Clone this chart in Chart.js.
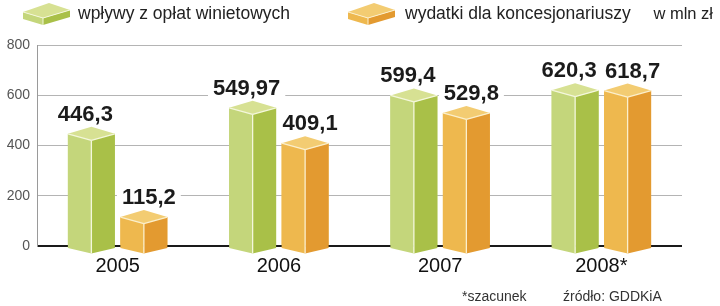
<!DOCTYPE html>
<html>
<head>
<meta charset="utf-8">
<script src="https://cdn.jsdelivr.net/npm/chart.js@4.4.1/dist/chart.umd.min.js"></script>
<style>
  html, body { margin: 0; padding: 0; background: #fff; }
  #wrap { position: relative; width: 720px; height: 306px; overflow: hidden; }
  #c { position: absolute; left: 0; top: 0; }
  .t { position: absolute; font-family: "Liberation Sans", Arial, sans-serif; color: #222; white-space: nowrap; }
  .leg { font-size: 17.5px; top: 3px; line-height: 20px; }
  .foot { font-size: 14px; top: 287px; line-height: 18px; color: #333; }
</style>
</head>
<body>
<div id="wrap">
  <canvas id="c" width="720" height="306"></canvas>
  <div class="t leg" style="left:78px">wpływy z opłat winietowych</div>
  <div class="t leg" style="left:405px">wydatki dla koncesjonariuszy</div>
  <div class="t leg" style="right:7px; font-size:16.5px">w mln zł</div>
  <div class="t foot" style="left:462px">*szacunek</div>
  <div class="t foot" style="left:563px">źródło: GDDKiA</div>
</div>
<script>
const categories = ['2005', '2006', '2007', '2008*'];
const seriesNames = ['wpływy z opłat winietowych', 'wydatki dla koncesjonariuszy'];
const winiety = [446.3, 549.97, 599.4, 620.3];
const koncesje = [115.2, 409.1, 529.8, 618.7];
const winietyLabels = ['446,3', '549,97', '599,4', '620,3'];
const koncesjeLabels = ['115,2', '409,1', '529,8', '618,7'];
const yTicks = [0, 200, 400, 600, 800];

const palettes = [
  { left: '#c4d67b', right: '#a9c048', top: '#d7e193', edge: '#f4f7dc', labelShift: -6 },
  { left: '#eeb84e', right: '#e39a30', top: '#f3cc72', edge: '#fbefcc', labelShift: 5 }
];
const LABEL_FONT = 'bold 22px "Liberation Sans", Arial, sans-serif';

function poly(ctx, pts, fill) {
  ctx.beginPath();
  ctx.moveTo(pts[0][0], pts[0][1]);
  for (let i = 1; i < pts.length; i++) ctx.lineTo(pts[i][0], pts[i][1]);
  ctx.closePath();
  ctx.fillStyle = fill;
  ctx.fill();
}
function line(ctx, a, b, col, w) {
  ctx.beginPath();
  ctx.moveTo(a[0], a[1]); ctx.lineTo(b[0], b[1]);
  ctx.strokeStyle = col; ctx.lineWidth = w; ctx.stroke();
}

function drawPrism(ctx, x, y, base, w, p) {
  const h = w / 2;
  const L = [x - h, y], R = [x + h, y], B = [x, y - 7], F = [x, y + 6.5];
  const LB = [x - h, base + 3], RB = [x + h, base + 3], FB = [x, base + 8.5];
  poly(ctx, [L, F, FB, LB], p.left);
  poly(ctx, [F, R, RB, FB], p.right);
  poly(ctx, [B, R, F, L], p.top);
  line(ctx, L, F, p.edge, 1.3);
  line(ctx, F, R, p.edge, 1.3);
  line(ctx, F, FB, p.edge, 1.3);
}

function drawIcon(ctx, x0, p) {
  const L = [x0, 12], B = [x0 + 26, 3], R = [x0 + 47, 10], F = [x0 + 20, 18];
  const d = 7;
  poly(ctx, [L, F, [F[0], F[1] + d], [L[0], L[1] + d]], p.left);
  poly(ctx, [F, R, [R[0], R[1] + d], [F[0], F[1] + d]], p.right);
  poly(ctx, [L, B, R, F], p.top);
  line(ctx, L, F, p.edge, 1);
  line(ctx, F, R, p.edge, 1);
  line(ctx, F, [F[0], F[1] + d], p.edge, 1);
}

function eachBar(chart, fn) {
  const labelSets = [winietyLabels, koncesjeLabels];
  chart.data.datasets.forEach((ds, di) => {
    const meta = chart.getDatasetMeta(di);
    meta.data.forEach((bar, i) => {
      const props = bar.getProps(['x', 'y', 'base', 'width'], true);
      fn(props, di, labelSets[di][i]);
    });
  });
}

const prismPlugin = {
  id: 'prism',
  beforeDatasetsDraw(chart) {
    const ctx = chart.ctx;
    ctx.save();
    ctx.font = LABEL_FONT;
    eachBar(chart, (p, di, txt) => {
      const w = ctx.measureText(txt).width;
      const cx = p.x + palettes[di].labelShift;
      ctx.fillStyle = '#ffffff';
      ctx.fillRect(cx - w / 2 - 5, p.y - 13 - 18, w + 10, 23);
    });
    ctx.restore();
  },
  afterDatasetsDraw(chart) {
    const ctx = chart.ctx;
    ctx.save();
    eachBar(chart, (p, di) => drawPrism(ctx, p.x, p.y, p.base, p.width, palettes[di]));
    ctx.font = LABEL_FONT;
    ctx.fillStyle = '#1b1b1b';
    ctx.textAlign = 'center';
    ctx.textBaseline = 'alphabetic';
    eachBar(chart, (p, di, txt) => ctx.fillText(txt, p.x + palettes[di].labelShift, p.y - 13));
    drawIcon(ctx, 23, palettes[0]);
    drawIcon(ctx, 348, palettes[1]);
    ctx.restore();
  }
};

new Chart(document.getElementById('c'), {
  type: 'bar',
  data: {
    labels: categories,
    datasets: [
      { label: seriesNames[0], data: winiety, backgroundColor: palettes[0].left, borderWidth: 0 },
      { label: seriesNames[1], data: koncesje, backgroundColor: palettes[1].left, borderWidth: 0 }
    ]
  },
  options: {
    responsive: false,
    animation: false,
    devicePixelRatio: 1,
    layout: { padding: { left: 0, right: 38, top: 45, bottom: 0 } },
    datasets: { bar: { categoryPercentage: 0.651, barPercentage: 0.895 } },
    plugins: { legend: { display: false }, tooltip: { enabled: false } },
    scales: {
      x: {
        grid: { display: false, drawTicks: false },
        border: { display: false },
        ticks: { color: '#111', font: { family: '"Liberation Sans", Arial, sans-serif', size: 20 }, padding: 8 },
        afterFit(s) { s.height = 60; }
      },
      y: {
        min: 0, max: 800,
        afterBuildTicks(s) { s.ticks = yTicks.map(v => ({ value: v })); },
        grid: {
          drawTicks: false,
          color: c => c.tick && c.tick.value === 0 ? '#1a1a1a' : '#b4b4b4',
          lineWidth: c => c.tick && c.tick.value === 0 ? 2 : 1
        },
        border: { display: true, color: '#9a9a9a', width: 1 },
        ticks: { color: '#555', font: { family: '"Liberation Sans", Arial, sans-serif', size: 14 }, padding: 7 },
        afterFit(s) { s.width = 37; }
      }
    }
  },
  plugins: [prismPlugin]
});
</script>
</body>
</html>
